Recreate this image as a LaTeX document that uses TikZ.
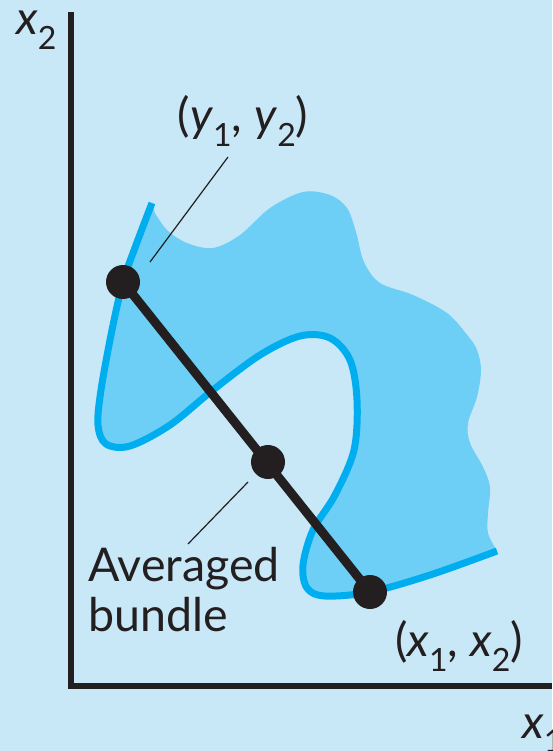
\documentclass[tikz,border=0pt]{standalone}
\usepackage{fontspec}
\setmainfont{Lato}
\definecolor{bgblue}{HTML}{C8E8F8}
\definecolor{regionblue}{HTML}{6DCFF6}
\definecolor{curveblue}{HTML}{00AEEF}
\definecolor{ink}{HTML}{231F20}
\newcommand\sbs[1]{\raisebox{-0.32em}{\fontsize{32}{32}\selectfont #1}}
\begin{document}
\begin{tikzpicture}[x=1pt,y=-1pt,
  lbl/.style={inner sep=0pt, font=\fontsize{46.5}{50}\selectfont, text=ink},
  leader/.style={draw=ink, line width=1.2pt},
  dot/.style={circle, fill=ink, minimum size=34pt, inner sep=0pt},
  axis/.style={draw=ink, line width=6pt, miter limit=10},
  bundle/.style={draw=ink, line width=9pt},
  indiff/.style={draw=curveblue, line width=7pt},
  region/.style={fill=regionblue}]
\fill[bgblue] (0,0) rectangle (552,751);
\useasboundingbox (0,0) rectangle (552,751);
% preferred region
\fill[region] plot[smooth, tension=0.55] coordinates {(152,203) (136,245) (123,282) (112,330) (101,390) (98,425) (106,444) (130,446) (170,425) (213,390) (260,355) (300,336) (330,338) (350,360) (357,400) (354,450) (335,495) (313,530) (303,565) (307,588) (325,596) (370,592) (430,575) (497,551)}
  -- plot[smooth, tension=0.55] coordinates {(497,551) (488,533) (488,513) (490,487) (483,467) (470,443) (468,423) (477,397) (481,370) (477,350) (468,336) (447,313) (413,295) (380,283) (364,262) (356,232) (347,208) (330,195) (303,192) (270,208) (240,235) (213,248) (187,243) (167,230) (155,213)} -- cycle;
% indifference curve
\draw[indiff] plot[smooth, tension=0.55] coordinates {(152,203) (136,245) (123,282) (112,330) (101,390) (98,425) (106,444) (130,446) (170,425) (213,390) (260,355) (300,336) (330,338) (350,360) (357,400) (354,450) (335,495) (313,530) (303,565) (307,588) (325,596) (370,592) (430,575) (497,551)};
% axes
\draw[axis] (71,12) -- (71,686) -- (552,686);
% bundles
\coordinate (Y) at (123,282);
\coordinate (M) at (268,462);
\coordinate (X) at (370,592);
\draw[bundle] (Y) -- (X);
\node[dot] (ydot) at (Y) {};
\node[dot] (mdot) at (M) {};
\node[dot] (xdot) at (X) {};
% labels
\node[lbl] (ylab) at (243,121) {(\textit{y}\sbs{1}, \textit{y}\sbs{2})};
\node[lbl] (xlab) at (459,646) {(\textit{x}\sbs{1}, \textit{x}\sbs{2})};
\node[lbl, align=left, anchor=north west] (alab) at (88,547) {Averaged\\bundle};
\node[lbl, anchor=base west] (x2lab) at (16,35) {\textit{x}\sbs{2}};
\node[lbl, anchor=base west] (x1lab) at (522,738) {\textit{x}\sbs{1}};
% leaders
\coordinate (ylead) at (228,157);
\coordinate (ytip) at (150,262);
\coordinate (alead) at (188,544);
\coordinate (atip) at (248,482);
\draw[leader] (ylead) -- (ytip);
\draw[leader] (alead) -- (atip);
\end{tikzpicture}
\end{document}
